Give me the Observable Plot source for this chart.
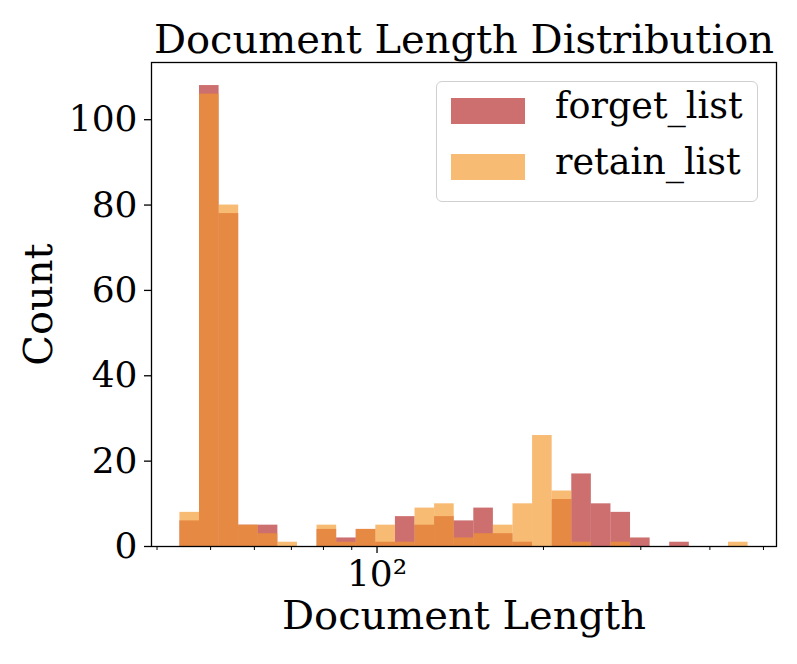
<!DOCTYPE html>
<html>
<head>
<meta charset="utf-8">
<script src="https://cdn.jsdelivr.net/npm/d3@7"></script>
<script src="https://cdn.jsdelivr.net/npm/@observablehq/plot@0.6"></script>
<style>
  html, body { margin: 0; padding: 0; background: white; }
  #wrap { position: relative; width: 797px; height: 664px; font-family: "DejaVu Serif", serif; }
  #legend { position: absolute; left: 436px; top: 81px; width: 322px; height: 121px;
            border: 1.5px solid #d0d0d0; border-radius: 6px; background: rgba(255,255,255,0.8); box-sizing: border-box; }
  .row { position: absolute; left: 14px; height: 26px; }
  .sw { position: absolute; left: 0; top: 0; width: 74px; height: 26px; }
  .lab { position: absolute; left: 104px; top: -12px; font-size: 36.5px; line-height: 40px; white-space: nowrap; color: black; }
</style>
</head>
<body>
<div id="wrap"></div>
<script>
// ---- data ----
const seriesNames = ["forget_list", "retain_list"];
const seriesColors = ["#b22222", "#f2962a"];
const lengthMin = 44;   // shortest document
const lengthMax = 469;  // longest document
const binCount = 29;
const forgetCounts = [6,108,78,5,5,0,0,4,2,4,1,7,5,7,6,9,3,1,0,11,17,10,8,2,0,1,0,0,0];
const retainCounts = [8,106,80,5,3,1,0,5,1,4,5,1,9,10,2,3,5,10,26,13,1,0,1,0,0,0,0,0,1];
const yTicks = [0, 20, 40, 60, 80, 100];
const xMajorTicks = [100];
const xMajorLabels = ["10²"];
const xMinorTicks = [40, 50, 60, 70, 80, 90, 200, 300, 400, 500];
const titleText = "Document Length Distribution";
const xLabel = "Document Length";
const yLabel = "Count";

// log-spaced bin edges (as numpy logspace)
const lo = Math.log10(lengthMin), hi = Math.log10(lengthMax);
const edges = d3.range(binCount + 1).map(i => Math.pow(10, lo + (hi - lo) * i / binCount));
const pad = (hi - lo) * 0.05;
const xDomain = [Math.pow(10, lo - pad), Math.pow(10, hi + pad)];
const yMax = d3.max([...forgetCounts, ...retainCounts]) * 1.05;

function rows(counts) {
  return counts.map((c, i) => ({x1: edges[i], x2: edges[i + 1], count: c})).filter(d => d.count > 0);
}
const alpha = 0.65;

const chart = Plot.plot({
  width: 797,
  height: 664,
  marginLeft: 151,
  marginRight: 21,
  marginTop: 62,
  marginBottom: 118,
  style: {fontFamily: "DejaVu Serif", fontSize: "36px", background: "white", color: "black", overflow: "visible"},
  x: {type: "log", domain: xDomain},
  y: {domain: [0, yMax]},
  marks: [
    Plot.rectY(rows(forgetCounts), {x1: "x1", x2: "x2", y: "count", fill: seriesColors[0], fillOpacity: alpha}),
    Plot.rectY(rows(retainCounts), {x1: "x1", x2: "x2", y: "count", fill: seriesColors[1], fillOpacity: alpha}),
    Plot.frame({stroke: "black", strokeWidth: 1.3}),
    Plot.axisY({ticks: yTicks, tickSize: 7, tickPadding: 7, tickFormat: d => String(d), fontSize: 36, label: null, strokeWidth: 1.3}),
    Plot.axisY({ticks: [], label: yLabel, labelAnchor: "center", labelArrow: "none", labelOffset: 128, fontSize: 40}),
    Plot.axisX({ticks: xMinorTicks, tickSize: 4, tickFormat: () => "", label: null, strokeWidth: 1}),
    Plot.axisX({ticks: xMajorTicks, tickSize: 7, tickPadding: 7, tickFormat: d => xMajorLabels[xMajorTicks.indexOf(d)], fontSize: 36, label: null, strokeWidth: 1.3}),
    Plot.axisX({ticks: [], label: xLabel, labelAnchor: "center", labelArrow: "none", labelOffset: 82, fontSize: 40}),
    Plot.text([titleText], {frameAnchor: "top", lineAnchor: "bottom", dy: -10, fontSize: 40, fill: "black"})
  ]
});
const wrap = document.getElementById("wrap");
wrap.appendChild(chart);

// legend
const leg = document.createElement("div");
leg.id = "legend";
seriesNames.forEach((name, i) => {
  const r = document.createElement("div");
  r.className = "row";
  r.style.top = (16 + i * 55.5) + "px";
  const sw = document.createElement("div");
  sw.className = "sw";
  sw.style.background = seriesColors[i];
  sw.style.opacity = alpha;
  const lab = document.createElement("div");
  lab.className = "lab";
  lab.textContent = name;
  r.appendChild(sw); r.appendChild(lab);
  leg.appendChild(r);
});
wrap.appendChild(leg);
</script>
</body>
</html>
